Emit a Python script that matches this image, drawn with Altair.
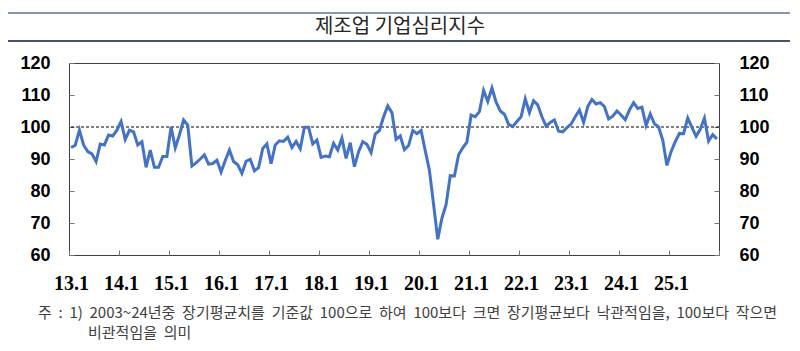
import json
import altair as alt
import pandas as pd

# ---- data (monthly, 2013.1 - 2025.12) ----
values = [
    93.6, 94.3, 99.0, 94.4, 92.3, 91.6, 89.2, 94.7, 94.4, 97.5, 97.2, 99.0,
    101.7, 96.1, 99.0, 98.5, 94.4, 95.4, 87.4, 92.8, 87.4, 87.4, 90.8, 90.8,
    100.1, 93.5, 97.5, 102.2, 100.6, 87.8, 88.8, 90.0, 91.3, 88.4, 88.6, 89.6,
    85.9, 89.5, 92.8, 89.2, 88.2, 85.5, 89.3, 89.9, 86.3, 87.3, 93.3, 94.7,
    88.5, 94.4, 95.7, 95.5, 96.8, 93.6, 95.5, 93.2, 99.9, 99.9, 94.7, 95.9,
    90.5, 90.9, 90.7, 94.9, 92.8, 96.5, 90.2, 95.1, 87.6, 92.3, 95.4, 94.6,
    92.0, 97.8, 98.9, 103.2, 106.6, 104.5, 96.1, 97.2, 92.9, 94.2, 98.9, 97.9,
    98.9, 92.6, 86.5, 75.8, 64.9, 71.5, 75.7, 84.8, 84.7, 91.3, 93.5, 95.3,
    103.7, 103.2, 104.8, 111.4, 108.0, 112.2, 107.8, 105.0, 104.0, 100.8, 100.1, 101.7,
    103.2, 108.8, 104.5, 108.2, 106.9, 103.2, 100.3, 101.4, 102.2, 98.7, 98.5, 99.8,
    100.9, 103.2, 105.3, 101.4, 106.4, 108.6, 107.2, 107.6, 106.4, 102.5, 103.4, 105.0,
    103.75, 102.3, 105.3, 107.6, 105.8, 106.2, 100.5, 104.1, 101.0, 100.0, 95.9, 88.0,
    92.3, 95.4, 98.0, 97.9, 102.8, 99.9, 97.1, 99.3, 102.8, 95.6, 97.6, 96.3,
]
tick_labels = ["13.1", "14.1", "15.1", "16.1", "17.1", "18.1", "19.1",
               "20.1", "21.1", "22.1", "23.1", "24.1", "25.1"]
y_ticks = [60, 70, 80, 90, 100, 110, 120]
ref_level = [100]
title_text = "제조업 기업심리지수"
footnote_lines = [
    "주 : 1) 2003~24년중 장기평균치를 기준값 100으로 하여 100보다 크면 장기평균보다 낙관적임을, 100보다 작으면",
    "비관적임을 의미",
]


def wide(s):
    # wider word gaps as in the reference (non-collapsing spaces)
    return s.replace(" ", "\u00a0\u00a0")


n_months = 12 * len(tick_labels)
df = pd.DataFrame({"t": [i + 0.5 for i in range(len(values))], "v": values})
ref_df = pd.DataFrame({"ref": ref_level})
one = pd.DataFrame({"a": [0]})

x_scale = alt.Scale(domain=[0, n_months], nice=False, zero=False)
y_scale = alt.Scale(domain=[y_ticks[0], y_ticks[-1]], nice=False, zero=False)

label_expr = json.dumps(tick_labels) + "[round(datum.value/12)] || ''"

x_axis = alt.Axis(
    values=list(range(0, n_months + 1, 12)), labelExpr=label_expr, labelOffset=2,
    tickSize=5, offset=-5, domain=False, grid=False, labelPadding=18,
    labelFont="Liberation Sans Narrow", labelFontWeight="bold", labelFontSize=20,
    labelColor="#000000", tickColor="#777777", labelFlush=False, labelOverlap=False,
    title=None,
)
y_common = dict(values=y_ticks, tickSize=5, offset=-5, domain=False, grid=False,
                labelFont="Liberation Sans", labelFontWeight="bold", labelFontSize=18,
                labelColor="#000000", tickColor="#777777", title=None)
y_left = alt.Axis(orient="left", labelPadding=19, **y_common)
y_right = alt.Axis(orient="right", labelPadding=20, **y_common)

line = alt.Chart(df).mark_line(color="#4472C4", strokeWidth=3).encode(
    x=alt.X("t:Q", scale=x_scale, axis=x_axis),
    y=alt.Y("v:Q", scale=y_scale, axis=y_left),
)
ref = alt.Chart(ref_df).mark_rule(color="#000000", strokeDash=[3, 2], strokeWidth=1).encode(
    y=alt.Y("ref:Q", scale=y_scale, axis=y_right),
)

top_rule = alt.Chart(one).mark_rule(color="#8496b0", strokeWidth=2).encode(
    x=alt.value(-61), x2=alt.value(721), y=alt.value(-50))
bottom_rule = alt.Chart(one).mark_rule(color="#44546a", strokeWidth=2).encode(
    x=alt.value(-61), x2=alt.value(721), y=alt.value(-22))
title = alt.Chart(one).mark_text(
    text=title_text, font="Noto Sans CJK KR", fontSize=20, color="#262626",
    align="center", baseline="middle").encode(x=alt.value(331), y=alt.value(-36))
foot1 = alt.Chart(one).mark_text(
    text=wide(footnote_lines[0]), font="Noto Sans CJK KR", fontSize=15, color="#404040",
    align="left", baseline="middle").encode(x=alt.value(-31), y=alt.value(250))
foot2 = alt.Chart(one).mark_text(
    text=wide(footnote_lines[1]), font="Noto Sans CJK KR", fontSize=15, color="#404040",
    align="left", baseline="middle").encode(x=alt.value(19), y=alt.value(270))

chart = alt.layer(ref, line, top_rule, bottom_rule, title, foot1, foot2).resolve_axis(
    y="independent"
).properties(
    width=650, height=192,
    padding={"left": 69, "top": 63, "right": 81, "bottom": 96},
    autosize=alt.AutoSizeParams(type="none"),
    background="white",
).configure_view(stroke="#404040", strokeWidth=1)

chart.save("out.html", embed_options={"renderer": "svg", "actions": False})
